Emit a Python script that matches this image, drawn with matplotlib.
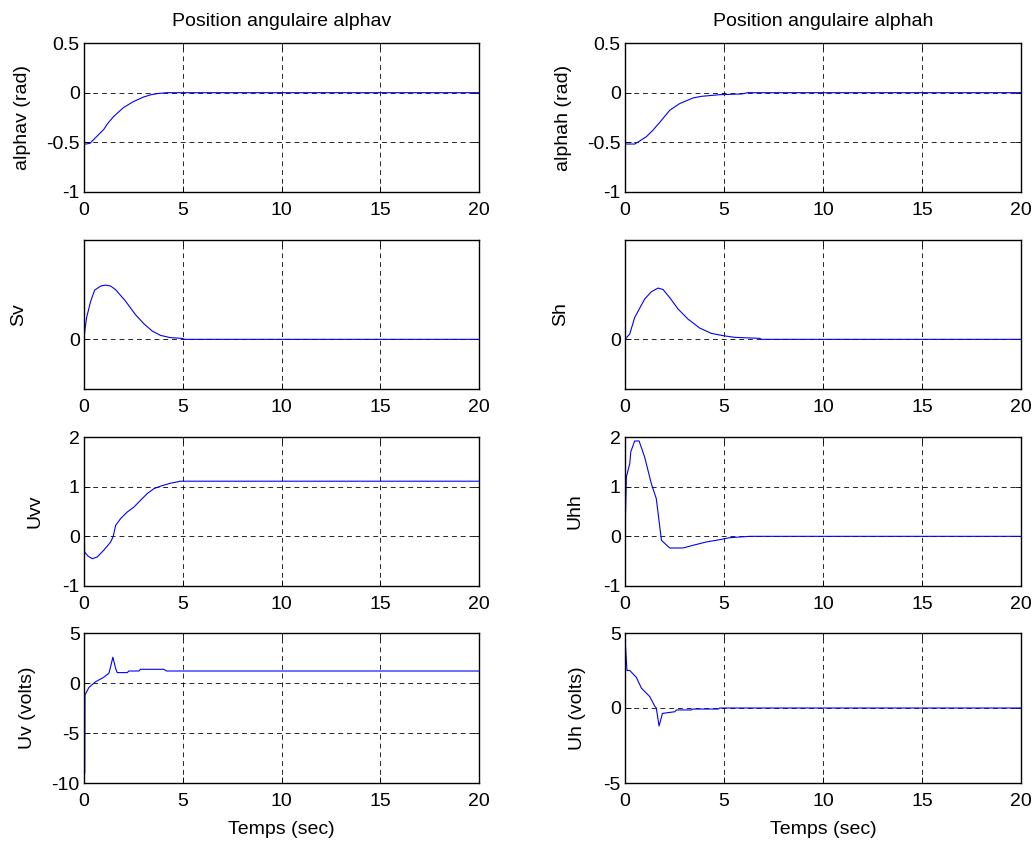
import matplotlib
matplotlib.use("Agg")
import matplotlib.pyplot as plt

plt.rcParams['font.family'] = ['Liberation Sans', 'DejaVu Sans']

# --- data ---
t_alphav = [0, 0.3, 0.6, 1.0, 1.2, 1.5, 2.0, 2.5, 3.0, 3.4, 3.7, 4.2, 5, 20]
alphav = [-0.52, -0.51, -0.45, -0.37, -0.31, -0.24, -0.15, -0.09, -0.045, -0.02, -0.01, 0, 0, 0]

t_alphah = [0, 0.5, 1.08, 1.4, 1.75, 2.26, 2.76, 3.44, 3.86, 4.8, 5.9, 6.2, 20]
alphah = [-0.517, -0.517, -0.443, -0.38, -0.3, -0.177, -0.11, -0.053, -0.037, -0.02, -0.013, 0, 0]

t_sv = [0, 0.05, 0.13, 0.34, 0.54, 0.84, 1.09, 1.35, 1.6, 2.1, 2.6, 3.03, 3.45, 3.87, 4.38, 4.97, 5.1, 20]
sv = [0, 0.1, 0.218, 0.385, 0.495, 0.536, 0.546, 0.536, 0.5, 0.385, 0.25, 0.157, 0.084, 0.04, 0.017, 0.01, 0, 0]

t_sh = [0, 0.24, 0.49, 0.99, 1.33, 1.67, 1.92, 2.26, 2.68, 3.18, 3.77, 4.36, 4.95, 5.54, 6.8, 6.9, 20]
sh = [0, 0.054, 0.22, 0.405, 0.479, 0.516, 0.502, 0.42, 0.305, 0.204, 0.114, 0.06, 0.037, 0.02, 0.01, 0, 0]

t_uvv = [0.02, 0.03, 0.2, 0.42, 0.67, 1.0, 1.35, 1.48, 1.6, 1.85, 2.19, 2.53, 2.86, 3.2, 3.54, 3.87, 4.38, 4.7, 4.88, 20]
uvv = [0, -0.315, -0.396, -0.45, -0.416, -0.28, -0.114, 0, 0.22, 0.356, 0.49, 0.59, 0.725, 0.86, 0.96, 1.01, 1.07, 1.094, 1.11, 1.11]

t_uhh = [0, 0.07, 0.24, 0.29, 0.49, 0.71, 0.99, 1.33, 1.58, 1.84, 2.26, 2.93, 3.44, 4.1, 4.79, 5.3, 6.3, 20]
uhh = [0, 1.2, 1.46, 1.7, 1.92, 1.92, 1.6, 1.06, 0.76, -0.08, -0.235, -0.235, -0.18, -0.114, -0.067, -0.027, 0, 0]

t_uv = [0.04, 0.04, 0.05, 0.25, 0.59, 1.0, 1.26, 1.35, 1.46, 1.6, 1.68, 2.19, 2.27, 2.78, 2.86, 4.04, 4.18, 20]
uv = [-9.0, -8.7, -1.2, -0.44, 0.13, 0.57, 0.97, 1.64, 2.58, 1.47, 1.04, 1.04, 1.2, 1.2, 1.37, 1.37, 1.2, 1.2]

t_uh = [0, 0.1, 0.24, 0.57, 0.83, 1.0, 1.25, 1.5, 1.58, 1.72, 1.89, 2.51, 2.6, 3.35, 3.44, 4.7, 4.79, 20]
uh = [4.67, 2.5, 2.5, 2.05, 1.32, 1.1, 0.76, 0.13, 0, -1.2, -0.36, -0.25, -0.13, -0.13, -0.07, -0.07, 0, 0]

xticks = [0, 5, 10, 15, 20]
titles = ['Position angulaire alphav', 'Position angulaire alphah']
ylabels = [['alphav (rad)', 'alphah (rad)'], ['Sv', 'Sh'], ['Uvv', 'Uhh'], ['Uv (volts)', 'Uh (volts)']]
ylims = [[(-1, 0.5), (-1, 0.5)], [(-0.5, 1.0), (-0.5, 1.0)], [(-1, 2), (-1, 2)], [(-10, 5), (-5, 5)]]
yticks = [[[-1, -0.5, 0, 0.5], [-1, -0.5, 0, 0.5]], [[0], [0]], [[-1, 0, 1, 2], [-1, 0, 1, 2]], [[-10, -5, 0, 5], [-5, 0, 5]]]
series = [[(t_alphav, alphav), (t_alphah, alphah)],
          [(t_sv, sv), (t_sh, sh)],
          [(t_uvv, uvv), (t_uhh, uhh)],
          [(t_uv, uv), (t_uh, uh)]]

W, H = 1034, 844
fig = plt.figure(figsize=(W / 100, H / 100), dpi=100)
col_x = [(84, 479), (625, 1021)]
row_y = [(43, 192), (240, 389), (437, 586), (633, 783)]
# pixel x-centre of each y label
label_px = [[22, 563], [19, 561], [35, 575], [27, 577]]

FS = 14
for r in range(4):
    for c in range(2):
        x0, x1 = col_x[c]
        y0, y1 = row_y[r]
        ax = fig.add_axes([x0 / W, 1 - y1 / H, (x1 - x0) / W, (y1 - y0) / H])
        t, v = series[r][c]
        ax.plot(t, v, color='#0000ff', lw=0.8)
        ax.set_xlim(0, 20)
        ax.set_ylim(*ylims[r][c])
        ax.set_xticks(xticks)
        ax.set_yticks(yticks[r][c])
        ax.set_yticklabels([('%g' % y) for y in yticks[r][c]])
        ax.grid(True, color='black', linestyle=(0, (5, 4)), lw=0.7, alpha=0.85)
        ax.tick_params(direction='in', top=True, right=True, labelsize=FS, length=4, width=0.6)
        ax.tick_params(axis='x', pad=7)
        ax.tick_params(axis='y', pad=3)
        for s in ax.spines.values():
            s.set_linewidth(1.0)
        ax.set_ylabel(ylabels[r][c], fontsize=FS)
        ax.yaxis.set_label_coords((label_px[r][c] - x0) / (x1 - x0), 0.5)
        ax.yaxis.label.set_verticalalignment('center')
        if r == 0:
            ax.set_title(titles[c], fontsize=FS, pad=12)
        if r == 3:
            ax.set_xlabel('Temps (sec)', fontsize=FS, labelpad=8)

fig.savefig('out.png', dpi=100)
